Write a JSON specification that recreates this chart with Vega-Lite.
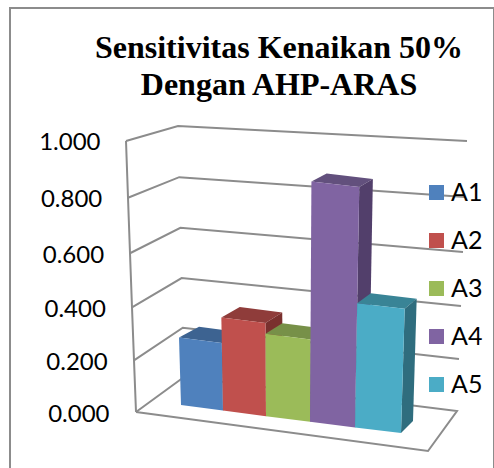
{
"$schema":"https://vega.github.io/schema/vega-lite/v6.json",
"width":484,"height":470,
"autosize":"none",
"padding":{"left":10,"top":8,"right":0,"bottom":0},
"background":"white",
"view":{"stroke":"#8c8c8c","strokeWidth":2},
"title":{"text":["Sensitivitas Kenaikan 50%","Dengan AHP-ARAS"],"font":"Liberation Serif","fontSize":32,"fontWeight":"bold","color":"#000000","anchor":"middle","dx":27,"offset":-94,"lineHeight":37},
"datasets":{
"bars":[{"alt":"A1","value":0.25},{"alt":"A2","value":0.345},{"alt":"A3","value":0.305},{"alt":"A4","value":0.89},{"alt":"A5","value":0.46}],
"ticks":[{"tick":0},{"tick":0.2},{"tick":0.4},{"tick":0.6},{"tick":0.8},{"tick":1}]
},
"layer":[
{"data":{"name":"ticks"},
"transform":[
{"calculate":"[0,1,2,3,4]","as":"pos"},{"flatten":["pos"]},
{"filter":"datum.pos<=2||datum.tick==0"},
{"calculate":"[136-10*datum.tick,184-6*datum.tick,457+10*datum.tick,428,136][datum.pos]-10","as":"sx"},
{"calculate":"(412-[412-255*datum.tick-16*datum.tick*datum.tick,377-245*datum.tick-6*datum.tick*datum.tick,411-258*datum.tick-12*datum.tick*datum.tick,451,412][datum.pos])/271","as":"sy"}],
"mark":{"type":"line","stroke":"#8c8c8c","strokeWidth":2},
"encoding":{
"x":{"field":"sx","type":"quantitative","scale":{"domain":[0,484],"nice":false,"zero":false},"axis":null},
"y":{"field":"sy","type":"quantitative","scale":{"domain":[-0.24354,1.49077],"nice":false,"zero":false},
"axis":{"orient":"left","title":null,"offset":-99,"values":[0,0.2,0.4,0.6,0.8,1],"format":".3f","domain":false,"ticks":false,"grid":false,"labelFont":"Lato","labelFontSize":24,"labelColor":"#000000","labelPadding":0,
"encoding":{"labels":{"dx":{"value":{"expr":"-9*datum.value"}},"dy":{"value":{"expr":"16*datum.value*(1-datum.value)+2"}}}}}},
"detail":{"field":"tick"},
"order":{"field":"pos","type":"quantitative"}}},
{"data":{"name":"ticks"},
"transform":[
{"calculate":"126+10*(1-datum.tick)","as":"lx"},
{"calculate":"datum.lx-10","as":"sx"},
{"calculate":"(412-(412-255*datum.tick-16*datum.tick*datum.tick))/271","as":"sy"}],
"mark":{"type":"line","stroke":"#8c8c8c","strokeWidth":2},
"encoding":{
"x":{"field":"sx","type":"quantitative"},
"y":{"field":"sy","type":"quantitative"},
"order":{"field":"tick","type":"quantitative"}}},
{"data":{"name":"bars"},
"mark":{"type":"point","filled":true,"opacity":0,"size":0},
"encoding":{
"color":{"field":"alt","type":"nominal","scale":{"domain":["A1","A2","A3","A4","A5"],"range":["#4f81bd","#c0504d","#9bbb59","#8064a2","#4bacc6"]},
"legend":{"title":null,"orient":"none","legendX":414,"legendY":172,"symbolType":"square","symbolSize":225,"symbolOpacity":1,"symbolStrokeWidth":0,"labelFont":"Lato","labelFontSize":25,"labelColor":"#000000","rowPadding":22,"labelOffset":2,"padding":0}}}},
{"data":{"name":"bars"},
"transform":[
{"calculate":"toNumber(slice(datum.alt,1))-1","as":"i"},
{"calculate":"['top','side','front']","as":"face"},{"flatten":["face"]},
{"calculate":"[0,1,2,3]","as":"c"},{"flatten":["c"]},
{"calculate":"datum.alt+datum.face","as":"key"},
{"calculate":"datum.i+(datum.face=='side'?1:((datum.c==1||datum.c==2)?1:0))","as":"a"},
{"calculate":"datum.face=='front'?0:(datum.face=='top'?(datum.c>=2?1:0):((datum.c==1||datum.c==2)?1:0))","as":"d"},
{"calculate":"datum.face=='top'?datum.value:(datum.c>=2?datum.value:0)","as":"z"},
{"calculate":"181+41.5*datum.a+0.5*datum.a*datum.a+(datum.a-2.5)*datum.z*3.2+datum.d*(20-1.6*datum.a)-10","as":"sx"},
{"calculate":"(412-(405+5.6*datum.a-270*datum.z+datum.d*(-12+4.5*datum.z)))/271","as":"sy"}],
"mark":{"type":"line","interpolate":"linear-closed","strokeWidth":0,"filled":true},
"encoding":{
"x":{"field":"sx","type":"quantitative"},
"y":{"field":"sy","type":"quantitative"},
"fill":{"field":"key","type":"nominal","sort":null,"legend":null,"scale":{
"domain":["A1top","A1side","A1front","A2top","A2side","A2front","A3top","A3side","A3front","A4top","A4side","A4front","A5top","A5side","A5front"],
"range":["#3d6391","#325277","#4f81bd","#8f3c3a","#7a302e","#c0504d","#779048","#617539","#9bbb59","#62507d","#523f6b","#8064a2","#398496","#2f6d7e","#4bacc6"]}},
"order":{"field":"c","type":"quantitative"}}}
]
}
